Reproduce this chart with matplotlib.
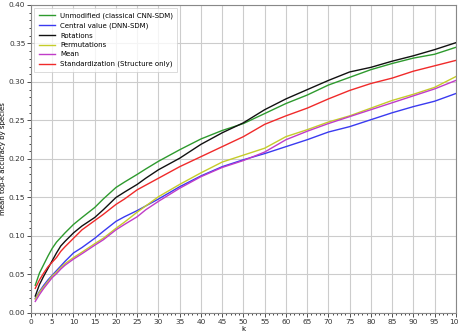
import matplotlib
matplotlib.use("Agg")
import matplotlib.pyplot as plt
from matplotlib.ticker import MultipleLocator

k = [1, 2, 3, 4, 5, 6, 7, 8, 10, 12, 15, 17, 20, 22, 25, 27, 30, 35, 40, 45,
     50, 55, 60, 65, 70, 75, 80, 85, 90, 95, 100]

unmodified = [.036, .052, .063, .074, .084, .092, .098, .104, .115, .124, .137, .148, .163, .170, .180, .187,
              .197, .212, .226, .237, .246, .259, .272, .283, .296, .306, .316, .324, .331, .336, .345]
central = [.019, .028, .036, .043, .049, .055, .061, .067, .078, .085, .097, .106, .119, .125, .133, .139,
           .148, .164, .178, .190, .199, .207, .216, .225, .235, .242, .251, .260, .268, .275, .285]
rotations = [.022, .037, .048, .058, .068, .078, .087, .093, .104, .113, .124, .134, .150, .157, .167, .175,
             .186, .201, .219, .234, .247, .264, .278, .290, .302, .313, .319, .327, .334, .342, .351]
permutations = [.018, .027, .034, .041, .048, .053, .059, .064, .072, .079, .090, .097, .110, .118, .131, .139,
                .151, .167, .182, .196, .205, .214, .229, .238, .248, .256, .266, .276, .284, .293, .307]
mean = [.015, .024, .032, .039, .046, .051, .057, .062, .070, .077, .088, .095, .108, .115, .125, .134,
        .145, .162, .177, .189, .198, .209, .225, .236, .246, .255, .264, .273, .282, .291, .302]
standardization = [.032, .043, .052, .060, .066, .072, .080, .086, .097, .108, .120, .128, .141, .148, .160, .166,
                   .175, .190, .203, .216, .229, .245, .256, .266, .278, .289, .298, .305, .314, .321, .328]

labels = ["Unmodified (classical CNN-SDM)", "Central value (DNN-SDM)", "Rotations",
          "Permutations", "Mean", "Standardization (Structure only)"]
series = [unmodified, central, rotations, permutations, mean, standardization]
colors = ["#2e9a2e", "#3a3af0", "#111111", "#c5cc2a", "#c03cc8", "#f02a2a"]

fig = plt.figure(figsize=(4.6, 3.31), dpi=100)
ax = fig.add_axes([0.0674, 0.0544, 0.9236, 0.9306])

for vals, lab, col in zip(series, labels, colors):
    ax.plot(k, vals, color=col, lw=1.0, label=lab)

ax.set_xlim(0, 100)
ax.set_ylim(0, 0.40)
ax.xaxis.set_major_locator(MultipleLocator(5))
ax.xaxis.set_minor_locator(MultipleLocator(1))
ax.yaxis.set_major_locator(MultipleLocator(0.05))
ax.yaxis.set_minor_locator(MultipleLocator(0.01))
ax.yaxis.set_major_formatter(plt.FormatStrFormatter("%.2f"))
ax.grid(True, which="major", color="#cccccc", lw=0.8)
ax.tick_params(labelsize=5.3, length=3, width=0.6, pad=1.0, colors="#333333")
ax.tick_params(which="minor", length=1.5, width=0.5)
for s in ax.spines.values():
    s.set_color("#888888")
    s.set_linewidth(0.8)

ax.set_xlabel("k", fontsize=5)
ax.set_ylabel("mean top-k accuracy by species", fontsize=5)
ax.xaxis.set_label_coords(0.5, -0.041)
ax.yaxis.set_label_coords(-0.058, 0.5)

leg = ax.legend(loc="upper left", fontsize=5, handlelength=2.3, labelspacing=0.5,
                borderpad=0.6, frameon=True, fancybox=False)
leg.get_frame().set_edgecolor("#cccccc")
leg.get_frame().set_linewidth(0.6)

fig.savefig("out.png", dpi=100)
